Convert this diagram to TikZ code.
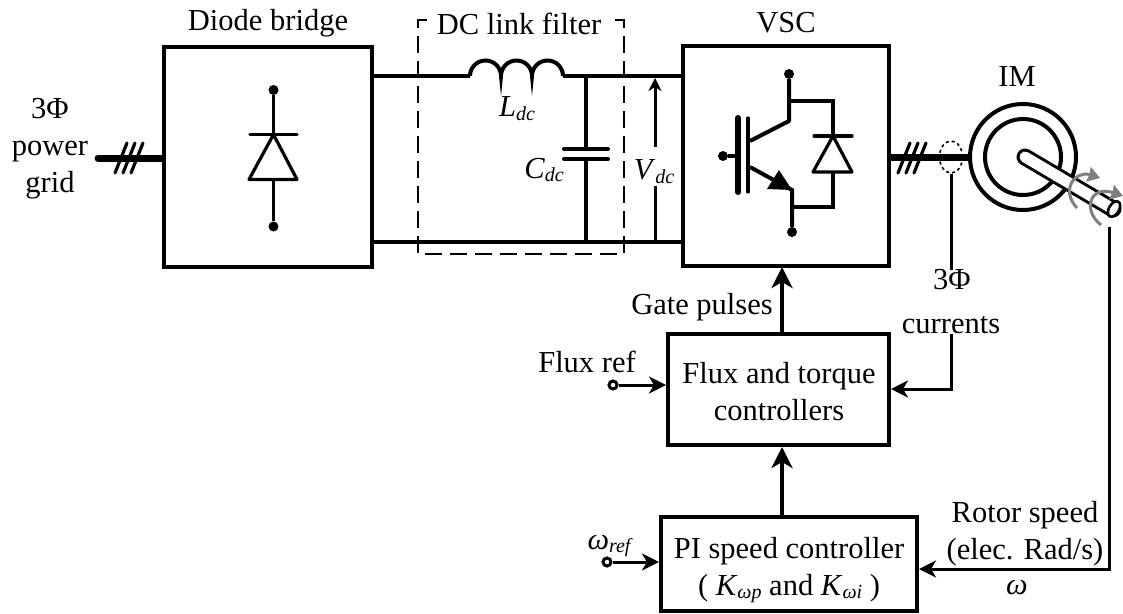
\documentclass[tikz,border=0pt]{standalone}
\usepackage{fontspec}
\setmainfont{Liberation Serif}
\usetikzlibrary{arrows.meta,shapes.geometric}
\newcommand{\sbs}[1]{\raisebox{-0.28ex}{\fontsize{20}{20}\selectfont\itshape #1}}
\tikzset{
  block/.style={draw,line width=4pt,minimum width=#1,inner sep=0pt,align=center},
  label/.style={inner sep=0pt,align=center},
  wire/.style={line width=4pt},
  thin wire/.style={line width=3.2pt},
  bus/.style={line width=7pt},
  sig/.style={line width=3pt,-{Stealth[length=17pt,width=17pt,inset=5pt]}},
  bigsig/.style={line width=4pt,-{Stealth[length=21pt,width=21pt,inset=6pt]}},
  dot/.style={circle,fill=black,inner sep=0pt,minimum size=10pt},
  port/.style={circle,draw,line width=3pt,fill=white,inner sep=0pt,minimum size=8pt},
  rot/.style={color=gray,line width=3pt,-{Stealth[length=12pt,width=15pt,inset=1pt]}}
}
\begin{document}
\begin{tikzpicture}[x=1pt,y=-1pt,font=\fontsize{30.5}{37}\selectfont]
\useasboundingbox (0,0) rectangle (1123,613);

% boxes
\node[block=208pt,minimum height=220pt] (bridge) at (268,157) {};
\node[block=206pt,minimum height=220pt] (vsc) at (786,155.5) {};
\node[block=221pt,minimum height=111pt] (flux) at (778.5,389.5) {};
\node[block=256pt,minimum height=94pt] (pi) at (789,564) {};

% labels
\node[label] at (779,391.5) {Flux and torque\\controllers};
\node[label] at (789,570) {PI speed controller\\( \textit{K}\sbs{ωp} and \textit{K}\sbs{ωi} )};
\node[label] (gridtext) at (50,149) {3Φ\\power\\grid};
\node[label] at (268,23) {Diode bridge};
\node[label] (filtertext) at (519,24) {DC link filter};
\node[label] at (786,23) {VSC};
\node[label] at (1017,77) {IM};
\node[label] (ldc) at (517,109) {\textit{L}\sbs{dc}};
\node[label] (cdc) at (544,170) {\textit{C}\sbs{dc}};
\node[label] (vdc) at (654,172) {\textit{V}\sbs{dc}};
\node[label] (pulses) at (702,307) {Gate pulses};
\node[label] (phase) at (952,280) {3Φ};
\node[label] (meas) at (951,325) {currents};
\node[label] at (587,362) {Flux ref};
\node[label] at (609,546) {\textit{ω}\sbs{ref}};
\node[label] at (1025,533.5) {Rotor speed\\(elec. Rad/s)};
\node[label] at (1017,587) {\textit{ω}};

% grid side and diode bridge
\coordinate (gridend) at (98,158);
\draw[bus,line cap=round] (gridend) -- (bridge.west |- gridend);
\foreach \x in {115,123,131}
  \draw[thin wire,line cap=round] (\x,173) -- ++(12,-30);
\node[dot] (dtop) at (273.5,90) {};
\node[dot] (dbot) at (273.5,226.5) {};
\draw[thin wire] (dtop) -- (273.5,134.5);
\draw[thin wire] (dbot) -- (273.5,179.5);
\draw[thin wire,line cap=round,line join=round] (250,134.5) -- (297,134.5);
\draw[thin wire,line cap=round,line join=round] (273.5,134.5) -- (249,179.5) -- (297,179.5) -- cycle;

% dc link
\coordinate (ltop) at (470,76);
\coordinate (lend) at (563,76);
\coordinate (ctop) at (586,76);
\coordinate (cbot) at (586,241.5);
\draw[wire] (372,76) -- (ltop);
\draw[wire] (ltop) arc[start angle=180,end angle=360,radius=15.5]
  arc[start angle=180,end angle=360,radius=15.5]
  arc[start angle=180,end angle=360,radius=15.5];
\draw[wire] (lend) -- (vsc.west |- lend);
\draw[wire] (bridge.east |- cbot) -- (vsc.west |- cbot);
\draw[wire] (ctop) -- (586,149);
\draw[wire] (cbot) -- (586,159);
\draw[line width=4pt,line cap=round] (564,149) -- (608,149);
\draw[line width=4pt,line cap=round] (564,159) -- (608,159);
\draw[line width=2.2pt,dash pattern=on 17pt off 8pt] (427,20) -- (418,20) -- (418,254) -- (624,254);
\draw[line width=2.2pt,dash pattern=on 17pt off 8pt] (615,20) -- (624,20) -- (624,254);
\coordinate (vtop) at (655,78);
\coordinate (vbot) at (655,241.5);
\draw[line width=3pt,-{Stealth[length=13pt,width=13pt,inset=4pt]}] (655,147) -- (vtop);
\draw[line width=3pt] (655,186) -- (vbot);

% switch
\node[dot] (igc) at (789,74) {};
\node[dot] (ige) at (792,232) {};
\node[dot] (igg) at (723,156) {};
\draw[line width=6pt,line cap=round] (738,118) -- (738,192);
\draw[thin wire,line cap=round] (748,118) -- (748,192);
\draw[wire] (igg) -- (738,156);
\draw[wire,line join=round] (igc) -- (789,121) -- (750,141);
\draw[wire] (750,167) -- (792,190) -- (ige);
\fill (767,189) -- (779,170) -- (792,190) -- cycle;
\draw[thin wire] (789,101) -| (833,136);
\draw[thin wire] (792,207) -| (833,172);
\draw[thin wire,line cap=round] (814,136) -- (852,136);
\draw[thin wire,line join=round] (833,136) -- (813,172) -- (852,172) -- cycle;

% machine side
\node[circle,draw,line width=4pt,minimum size=106pt,inner sep=0pt] (im) at (1023,157) {};
\node[circle,draw,line width=4pt,minimum size=76pt,inner sep=0pt] (imin) at (1023,157) {};
\draw[bus] (vsc.east |- im) -- (im.west);
\foreach \x in {898,906,914}
  \draw[thin wire,line cap=round] (\x,173) -- ++(12,-30);
\node[ellipse,draw,dashed,line width=1.6pt,minimum width=23pt,minimum height=32pt,inner sep=0pt] (sense) at (951,157) {};
\draw[line width=3pt] (sense.south) -- (sense.south |- phase.north);
\draw[line width=17pt,line cap=round] (1025,157) -- (1113,209);
\draw[line width=11pt,color=white,line cap=round] (1025,157) -- (1113,209);
\draw[fill=white,line width=2.6pt,rotate around={59:(1114,209)}] (1114,209) ellipse (8.5pt and 5pt);
\draw[rot] (1077,208) .. controls (1060,190) and (1075,170) .. (1100,178);
\draw[rot] (1101,225) .. controls (1082,210) and (1090,185) .. (1123,196);

% control
\coordinate (vscin) at (782,267);
\draw[bigsig] (flux.north -| vscin) -- (vscin);
\draw[bigsig] (pi.north -| vscin) -- (flux.south -| vscin);
\node[port] (fluxin) at (613,385) {};
\draw[sig] (fluxin) -- (fluxin -| flux.west);
\node[port] (omegain) at (607,562) {};
\draw[sig] (omegain) -- (omegain -| pi.west);
\coordinate (cur) at (951,389);
\draw[sig] (meas.south -| cur) -- (cur) -- (cur -| flux.east);
\coordinate (spd) at (1109,227);
\coordinate (spdcorner) at (1109,569);
\draw[sig] (spd) -- (spdcorner) -- (spdcorner -| pi.east);
\end{tikzpicture}
\end{document}
